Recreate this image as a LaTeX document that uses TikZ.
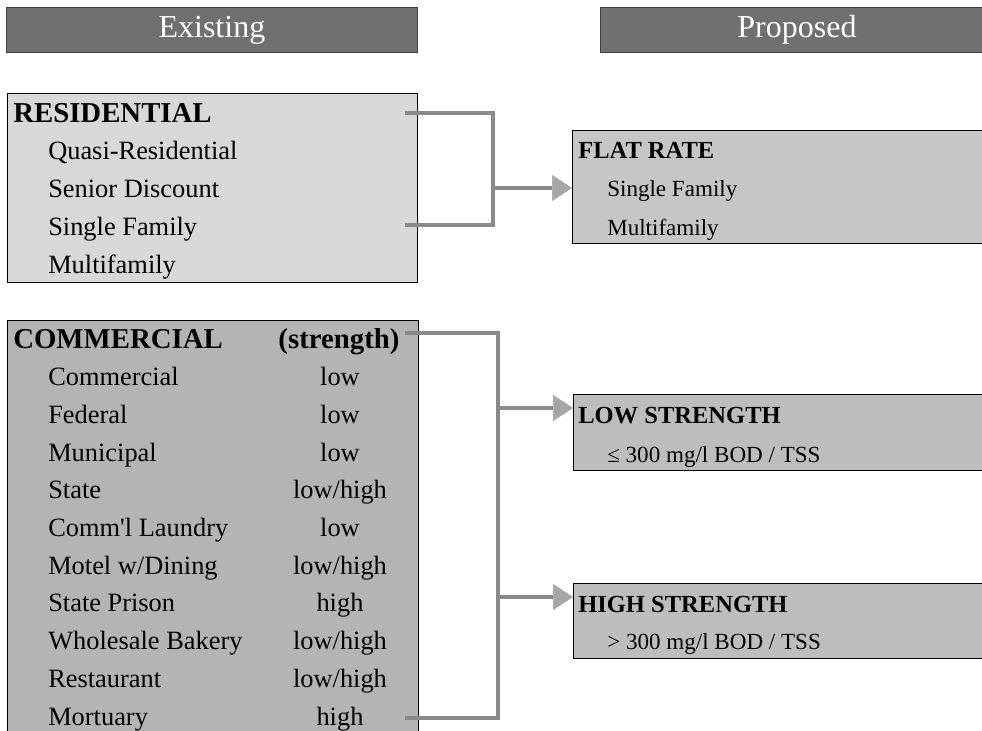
\documentclass[tikz,border=0pt]{standalone}
\usepackage{fontspec}
\setmainfont{Liberation Serif}
\usetikzlibrary{arrows.meta,calc}
\definecolor{hdr}{HTML}{707070}
\definecolor{resfill}{HTML}{D8D8D8}
\definecolor{comfill}{HTML}{B4B4B4}
\definecolor{flatfill}{HTML}{C6C6C6}
\definecolor{strfill}{HTML}{BDBDBD}
\definecolor{connc}{HTML}{8A8A8A}
\definecolor{arrc}{HTML}{A6A6A6}
\begin{document}
\begin{tikzpicture}[x=0.75pt,y=-0.75pt,
  hdrbox/.style={draw=black!75,line width=0.6pt,fill=hdr,anchor=north west,inner sep=0pt},
  hdrtext/.style={text=white,font=\fontsize{24}{28}\selectfont,inner sep=0pt},
  boxA/.style={draw=black,line width=1.1pt,anchor=north west,inner sep=0pt},
  lhead/.style={font=\fontsize{21.6}{25}\selectfont\bfseries,anchor=base west,inner sep=0pt},
  litem/.style={font=\fontsize{19.8}{24}\selectfont,anchor=base west,inner sep=0pt},
  lval/.style={font=\fontsize{19.8}{24}\selectfont,anchor=base,inner sep=0pt},
  rhead/.style={font=\fontsize{18.4}{22}\selectfont\bfseries,anchor=base west,inner sep=0pt},
  ritem/.style={font=\fontsize{17.3}{21}\selectfont,anchor=base west,inner sep=0pt},
  conn/.style={draw=connc,line width=3pt},
  arr/.style={conn,-{Triangle[length=15pt,width=19.5pt,fill=arrc,color=arrc,line width=0.4pt]}}
]
\useasboundingbox (0,0) rectangle (982,731);

% headers
\node[hdrbox,minimum width=308.25pt,minimum height=33.75pt] (hexist) at (6,7) {};
\node[hdrtext] (texist) at (hexist.center) {Existing};
\node[hdrbox,minimum width=292.5pt,minimum height=33.75pt] (hprop) at (600,7) {};
\node[hdrtext] (tprop) at (797,29.5) {Proposed};

% residential
\node[boxA,fill=resfill,minimum width=307.5pt,minimum height=141.75pt] (res) at (7,93) {};
\node[lhead] (rh) at (13,123) {RESIDENTIAL};
\node[litem] (r1) at (48,160) {Quasi-Residential};
\node[litem] (r2) at (48,198) {Senior Discount};
\node[litem] (r3) at (48,236) {Single Family};
\node[litem] (r4) at (48,273) {Multifamily};

% commercial
\node[boxA,fill=comfill,minimum width=308.25pt,minimum height=315pt] (com) at (7,320) {};
\node[lhead] (ch) at (13,348) {COMMERCIAL};
\node[lhead,anchor=base] (chs) at (339,348) {(strength)};
\foreach \n/\t/\v [count=\i] in {
  c1/Commercial/low,
  c2/Federal/low,
  c3/Municipal/low,
  c4/State/low\slash high,
  c5/Comm\textquotesingle l Laundry/low,
  c6/Motel w\slash Dining/low\slash high,
  c7/State Prison/high,
  c8/Wholesale Bakery/low\slash high,
  c9/Restaurant/low\slash high,
  c10/Mortuary/high}{
  \node[litem] (\n) at (48,{348+37.7*\i}) {\t};
  \node[lval] (\n v) at (340,{348+37.7*\i}) {\v};
}

% proposed boxes
\node[boxA,fill=flatfill,minimum width=315pt,minimum height=84.75pt] (flat) at (572,130) {};
\node[rhead] (fh) at (578,159) {FLAT RATE};
\node[ritem] (f1) at (607,197) {Single Family};
\node[ritem] (f2) at (607,235) {Multifamily};

\node[boxA,fill=strfill,minimum width=315pt,minimum height=57pt] (low) at (573,394) {};
\node[rhead] (lh) at (578,423) {LOW STRENGTH};
\node[ritem] (l1) at (607,462) {≤ 300 mg/l BOD / TSS};

\node[boxA,fill=strfill,minimum width=315pt,minimum height=56.25pt] (high) at (573,583) {};
\node[rhead] (hh) at (578,612) {HIGH STRENGTH};
\node[ritem] (h1) at (607,649) {> 300 mg/l BOD / TSS};

% connectors
\coordinate (rt) at (405,113);
\coordinate (rb) at (405,225);
\coordinate (ra) at (493,188);
\draw[conn] (rt) -- (493,113) -- (493,225) -- (rb);
\draw[arr] (ra) -- (ra -| flat.west);

\coordinate (ct) at (405,333);
\coordinate (cb) at (405,718);
\coordinate (ca1) at (498,408);
\coordinate (ca2) at (498,597);
\draw[conn] (ct) -- (498,333) -- (498,718) -- (cb);
\draw[arr] (ca1) -- (ca1 -| low.west);
\draw[arr] (ca2) -- (ca2 -| high.west);
\end{tikzpicture}
\end{document}
